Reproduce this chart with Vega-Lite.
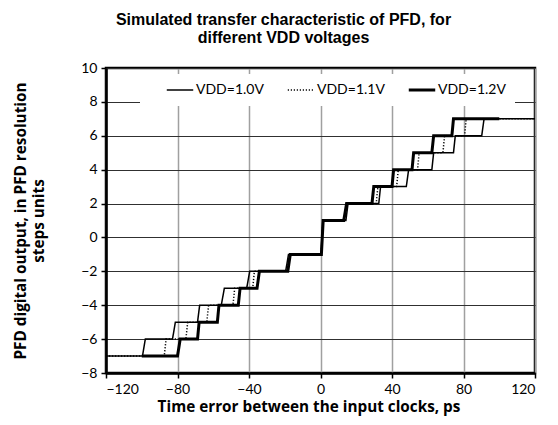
{
  "$schema": "https://vega.github.io/schema/vega-lite/v6.json",
  "width": 429,
  "height": 305,
  "autosize": "none",
  "padding": {"left": 106, "top": 68, "right": 23, "bottom": 52},
  "background": "white",
  "title": {
    "text": ["Simulated transfer characteristic of PFD, for", "different VDD voltages"],
    "font": "Liberation Sans",
    "fontSize": 16,
    "fontWeight": "bold",
    "color": "black",
    "anchor": "middle",
    "frame": "group",
    "dx": -37,
    "offset": 15,
    "lineHeight": 18
  },
  "config": {
    "view": {"stroke": "black", "strokeWidth": 2.5},
    "axis": {
      "labelFont": "Lato",
      "labelFontSize": 14,
      "labelColor": "black",
      "titleFont": "Open Sans",
      "titleFontSize": 15.3,
      "titleFontWeight": "bold",
      "titleColor": "black",
      "domainColor": "black",
      "domainWidth": 2.5,
      "tickColor": "black",
      "tickWidth": 1.5,
      "tickSize": 5
    }
  },
  "data": {
    "values": [
      {"vdd": "VDD=1.0V", "t": -120, "v": -7},
      {"vdd": "VDD=1.0V", "t": -99.6, "v": -7},
      {"vdd": "VDD=1.0V", "t": -98, "v": -6},
      {"vdd": "VDD=1.0V", "t": -82.8, "v": -6},
      {"vdd": "VDD=1.0V", "t": -81.2, "v": -5},
      {"vdd": "VDD=1.0V", "t": -68.8, "v": -5},
      {"vdd": "VDD=1.0V", "t": -67.6, "v": -4},
      {"vdd": "VDD=1.0V", "t": -55.5, "v": -4},
      {"vdd": "VDD=1.0V", "t": -53.8, "v": -3},
      {"vdd": "VDD=1.0V", "t": -41.3, "v": -3},
      {"vdd": "VDD=1.0V", "t": -39.6, "v": -2},
      {"vdd": "VDD=1.0V", "t": -19.5, "v": -2},
      {"vdd": "VDD=1.0V", "t": -17.9, "v": -1},
      {"vdd": "VDD=1.0V", "t": 0.3, "v": -1},
      {"vdd": "VDD=1.0V", "t": 1.3, "v": 1},
      {"vdd": "VDD=1.0V", "t": 14.2, "v": 1},
      {"vdd": "VDD=1.0V", "t": 15.4, "v": 2},
      {"vdd": "VDD=1.0V", "t": 32.6, "v": 2},
      {"vdd": "VDD=1.0V", "t": 33.6, "v": 3},
      {"vdd": "VDD=1.0V", "t": 48, "v": 3},
      {"vdd": "VDD=1.0V", "t": 49.3, "v": 4},
      {"vdd": "VDD=1.0V", "t": 62.3, "v": 4},
      {"vdd": "VDD=1.0V", "t": 63.3, "v": 5},
      {"vdd": "VDD=1.0V", "t": 74.4, "v": 5},
      {"vdd": "VDD=1.0V", "t": 75.4, "v": 6},
      {"vdd": "VDD=1.0V", "t": 90.2, "v": 6},
      {"vdd": "VDD=1.0V", "t": 91.5, "v": 7},
      {"vdd": "VDD=1.0V", "t": 120, "v": 7},
      {"vdd": "VDD=1.1V", "t": -120, "v": -7},
      {"vdd": "VDD=1.1V", "t": -87.4, "v": -7},
      {"vdd": "VDD=1.1V", "t": -86.4, "v": -6},
      {"vdd": "VDD=1.1V", "t": -75.3, "v": -6},
      {"vdd": "VDD=1.1V", "t": -74.3, "v": -5},
      {"vdd": "VDD=1.1V", "t": -63.6, "v": -5},
      {"vdd": "VDD=1.1V", "t": -62.6, "v": -4},
      {"vdd": "VDD=1.1V", "t": -49, "v": -4},
      {"vdd": "VDD=1.1V", "t": -48, "v": -3},
      {"vdd": "VDD=1.1V", "t": -37.9, "v": -3},
      {"vdd": "VDD=1.1V", "t": -37, "v": -2},
      {"vdd": "VDD=1.1V", "t": -18.7, "v": -2},
      {"vdd": "VDD=1.1V", "t": -17.5, "v": -1},
      {"vdd": "VDD=1.1V", "t": 0.4, "v": -1},
      {"vdd": "VDD=1.1V", "t": 1.4, "v": 1},
      {"vdd": "VDD=1.1V", "t": 13.8, "v": 1},
      {"vdd": "VDD=1.1V", "t": 15, "v": 2},
      {"vdd": "VDD=1.1V", "t": 31.2, "v": 2},
      {"vdd": "VDD=1.1V", "t": 32.1, "v": 3},
      {"vdd": "VDD=1.1V", "t": 42.6, "v": 3},
      {"vdd": "VDD=1.1V", "t": 43.5, "v": 4},
      {"vdd": "VDD=1.1V", "t": 54.3, "v": 4},
      {"vdd": "VDD=1.1V", "t": 55.2, "v": 5},
      {"vdd": "VDD=1.1V", "t": 68.5, "v": 5},
      {"vdd": "VDD=1.1V", "t": 69.4, "v": 6},
      {"vdd": "VDD=1.1V", "t": 80.6, "v": 6},
      {"vdd": "VDD=1.1V", "t": 81.5, "v": 7},
      {"vdd": "VDD=1.1V", "t": 120, "v": 7},
      {"vdd": "VDD=1.2V", "t": -100, "v": -7},
      {"vdd": "VDD=1.2V", "t": -80, "v": -7},
      {"vdd": "VDD=1.2V", "t": -78.5, "v": -6},
      {"vdd": "VDD=1.2V", "t": -68.8, "v": -6},
      {"vdd": "VDD=1.2V", "t": -67.9, "v": -5},
      {"vdd": "VDD=1.2V", "t": -57.7, "v": -5},
      {"vdd": "VDD=1.2V", "t": -56.8, "v": -4},
      {"vdd": "VDD=1.2V", "t": -46, "v": -4},
      {"vdd": "VDD=1.2V", "t": -45, "v": -3},
      {"vdd": "VDD=1.2V", "t": -35.5, "v": -3},
      {"vdd": "VDD=1.2V", "t": -34.2, "v": -2},
      {"vdd": "VDD=1.2V", "t": -18.3, "v": -2},
      {"vdd": "VDD=1.2V", "t": -16.9, "v": -1},
      {"vdd": "VDD=1.2V", "t": 0.5, "v": -1},
      {"vdd": "VDD=1.2V", "t": 1.5, "v": 1},
      {"vdd": "VDD=1.2V", "t": 13, "v": 1},
      {"vdd": "VDD=1.2V", "t": 14.6, "v": 2},
      {"vdd": "VDD=1.2V", "t": 28.8, "v": 2},
      {"vdd": "VDD=1.2V", "t": 29.8, "v": 3},
      {"vdd": "VDD=1.2V", "t": 40, "v": 3},
      {"vdd": "VDD=1.2V", "t": 40.9, "v": 4},
      {"vdd": "VDD=1.2V", "t": 51.2, "v": 4},
      {"vdd": "VDD=1.2V", "t": 52.1, "v": 5},
      {"vdd": "VDD=1.2V", "t": 62.3, "v": 5},
      {"vdd": "VDD=1.2V", "t": 63.3, "v": 6},
      {"vdd": "VDD=1.2V", "t": 73.5, "v": 6},
      {"vdd": "VDD=1.2V", "t": 74.4, "v": 7},
      {"vdd": "VDD=1.2V", "t": 100, "v": 7}
    ]
  },
  "mark": {"type": "line", "color": "black", "strokeCap": "butt", "strokeJoin": "miter"},
  "encoding": {
    "x": {
      "field": "t",
      "type": "quantitative",
      "scale": {"domain": [-120, 120], "nice": false},
      "axis": {
        "values": [-120, -80, -40, 0, 40, 80, 120],
        "title": "Time error between the input clocks, ps",
        "grid": true,
        "gridColor": "#a0a0a0",
        "gridWidth": 1.5,
        "labelPadding": 4,
        "titlePadding": 3,
        "titleX": 202.5
      }
    },
    "y": {
      "field": "v",
      "type": "quantitative",
      "scale": {"domain": [-8, 10], "nice": false},
      "axis": {
        "values": [-8, -6, -4, -2, 0, 2, 4, 6, 8, 10],
        "title": ["PFD digital output, in PFD resolution", "steps units"],
        "grid": true,
        "gridColor": "#303030",
        "gridWidth": 1,
        "labelPadding": 4,
        "titleX": -86,
        "titleY": 152.5,
        "titleAngle": -90,
        "titleAlign": "center",
        "titleBaseline": "middle",
        "titleLineHeight": 18
      }
    },
    "strokeWidth": {
      "condition": {"test": "datum.vdd === 'VDD=1.2V'", "value": 3},
      "value": 1.5
    },
    "strokeDash": {
      "field": "vdd",
      "type": "ordinal",
      "scale": {"domain": ["VDD=1.0V", "VDD=1.1V", "VDD=1.2V"], "range": [[1, 0], [1.2, 1.8], [1, 0]]},
      "legend": {
        "orient": "none",
        "legendX": 34,
        "legendY": 6,
        "direction": "horizontal",
        "title": null,
        "fillColor": "white",
        "padding": 9,
        "symbolType": "stroke",
        "symbolSize": 700,
        "symbolStrokeColor": "black",
        "symbolStrokeWidth": 1.5,
        "symbolOffset": 24,
        "labelFont": "Lato",
        "labelFontSize": 14,
        "labelColor": "black",
        "labelOffset": 9,
        "columnPadding": 6,
        "encode": {
          "symbols": {
            "update": {
              "strokeWidth": {"signal": "datum.value === 'VDD=1.2V' ? 3 : 1.5"}
            }
          }
        }
      }
    }
  }
}
